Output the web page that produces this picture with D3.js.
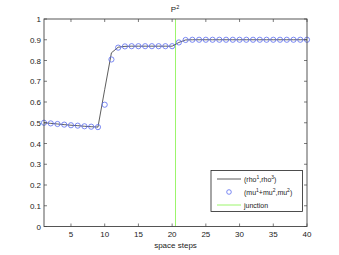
<!DOCTYPE html>
<html><head><meta charset="utf-8">
<script src="https://cdn.jsdelivr.net/npm/d3@7"></script>
<style>body{margin:0;background:#fff}svg{display:block}text{font-family:"Liberation Sans",Arial,sans-serif}</style>
</head><body>
<script>
const steps = d3.range(1, 41);
const circleVals = [0.500,0.497,0.494,0.491,0.488,0.486,0.483,0.481,0.479,0.587,
  0.805,0.862,0.868,0.869,0.869,0.869,0.869,0.869,0.869,0.869,
  0.887,0.899,0.900,0.900,0.900,0.900,0.900,0.900,0.900,0.900,
  0.900,0.900,0.900,0.900,0.900,0.900,0.900,0.900,0.900,0.900];
const lineVals = [0.500,0.497,0.494,0.491,0.488,0.486,0.483,0.481,0.479,0.660,
  0.837,0.864,0.868,0.869,0.869,0.869,0.869,0.869,0.869,0.869,
  0.887,0.899,0.900,0.900,0.900,0.900,0.900,0.900,0.900,0.900,
  0.900,0.900,0.900,0.900,0.900,0.900,0.900,0.900,0.900,0.900];
const junction = 20.5;
const xTicks = [5,10,15,20,25,30,35,40];
const yTicks = [0,0.1,0.2,0.3,0.4,0.5,0.6,0.7,0.8,0.9,1];

const W=339,H=255;
const svg=d3.select("body").append("svg").attr("width",W).attr("height",H);
const x=d3.scaleLinear().domain([1,40]).range([44,307]);
const y=d3.scaleLinear().domain([0,1]).range([226.5,19]);
const fs=8;
const green="#9cf56c", axisC="#444";

svg.append("line").attr("x1",x(junction)).attr("x2",x(junction)).attr("y1",y(0)).attr("y2",y(1))
  .attr("stroke",green).attr("stroke-width",1);

svg.append("path").datum(steps).attr("fill","none").attr("stroke","#333").attr("stroke-width",0.8)
  .attr("d",d3.line().x(d=>x(d)).y((d,i)=>y(lineVals[i])));
svg.append("g").selectAll("circle").data(steps).join("circle")
  .attr("cx",d=>x(d)).attr("cy",(d,i)=>y(circleVals[i])).attr("r",2.6)
  .attr("fill","none").attr("stroke","#5a6cf0").attr("stroke-width",0.8);

const g=svg.append("g");
g.append("rect").attr("x",x(1)).attr("y",y(1)).attr("width",x(40)-x(1)).attr("height",y(0)-y(1))
  .attr("fill","none").attr("stroke",axisC).attr("stroke-width",0.9);
const tl=3;
xTicks.forEach(t=>{
  g.append("line").attr("x1",x(t)).attr("x2",x(t)).attr("y1",y(0)).attr("y2",y(0)-tl).attr("stroke",axisC).attr("stroke-width",0.7);
  g.append("line").attr("x1",x(t)).attr("x2",x(t)).attr("y1",y(1)).attr("y2",y(1)+tl).attr("stroke",axisC).attr("stroke-width",0.7);
  g.append("text").attr("x",x(t)).attr("y",y(0)+10).attr("text-anchor","middle").attr("font-size",fs).attr("fill","#222").text(t);
});
yTicks.forEach(t=>{
  g.append("line").attr("x1",x(1)).attr("x2",x(1)+tl).attr("y1",y(t)).attr("y2",y(t)).attr("stroke",axisC).attr("stroke-width",0.7);
  g.append("line").attr("x1",x(40)).attr("x2",x(40)-tl).attr("y1",y(t)).attr("y2",y(t)).attr("stroke",axisC).attr("stroke-width",0.7);
  g.append("text").attr("x",x(1)-3).attr("y",y(t)+3).attr("text-anchor","end").attr("font-size",fs).attr("fill","#222").text(d3.format("~g")(t));
});
svg.append("text").attr("x",(x(1)+x(40))/2).attr("y",248).attr("text-anchor","middle").attr("font-size",fs).attr("fill","#222").text("space steps");
const tt=svg.append("text").attr("x",175).attr("y",12).attr("text-anchor","middle").attr("font-size",fs).attr("fill","#222");
tt.append("tspan").text("P");
tt.append("tspan").attr("font-size",5.5).attr("dy",-3).text("2");

const lg=svg.append("g");
lg.append("rect").attr("x",211).attr("y",170.5).attr("width",91.5).attr("height",41).attr("fill","#fff").attr("stroke","#222").attr("stroke-width",0.8);
function sup(t,parts){parts.forEach(p=>{const s=t.append("tspan").text(p[0]);if(p[1]){s.attr("font-size",5).attr("dy",-3);}else if(p[2]){s.attr("dy",3);}});}
lg.append("line").attr("x1",217).attr("x2",241).attr("y1",179).attr("y2",179).attr("stroke","#333").attr("stroke-width",0.8);
let t1=lg.append("text").attr("x",244).attr("y",182).attr("font-size",7).attr("fill","#222");
sup(t1,[["(rho"],["1",1],[",rho",0,1],["3",1],[")",0,1]]);
lg.append("circle").attr("cx",229).attr("cy",192).attr("r",2.3).attr("fill","none").attr("stroke","#5a6cf0").attr("stroke-width",0.8);
let t2=lg.append("text").attr("x",244).attr("y",195).attr("font-size",7).attr("fill","#222");
sup(t2,[["(mu"],["1",1],["+mu",0,1],["2",1],[",mu",0,1],["2",1],[")",0,1]]);
lg.append("line").attr("x1",217).attr("x2",241).attr("y1",205).attr("y2",205).attr("stroke",green).attr("stroke-width",1);
lg.append("text").attr("x",244).attr("y",208).attr("font-size",7).attr("fill","#222").text("junction");
</script>
</body></html>
